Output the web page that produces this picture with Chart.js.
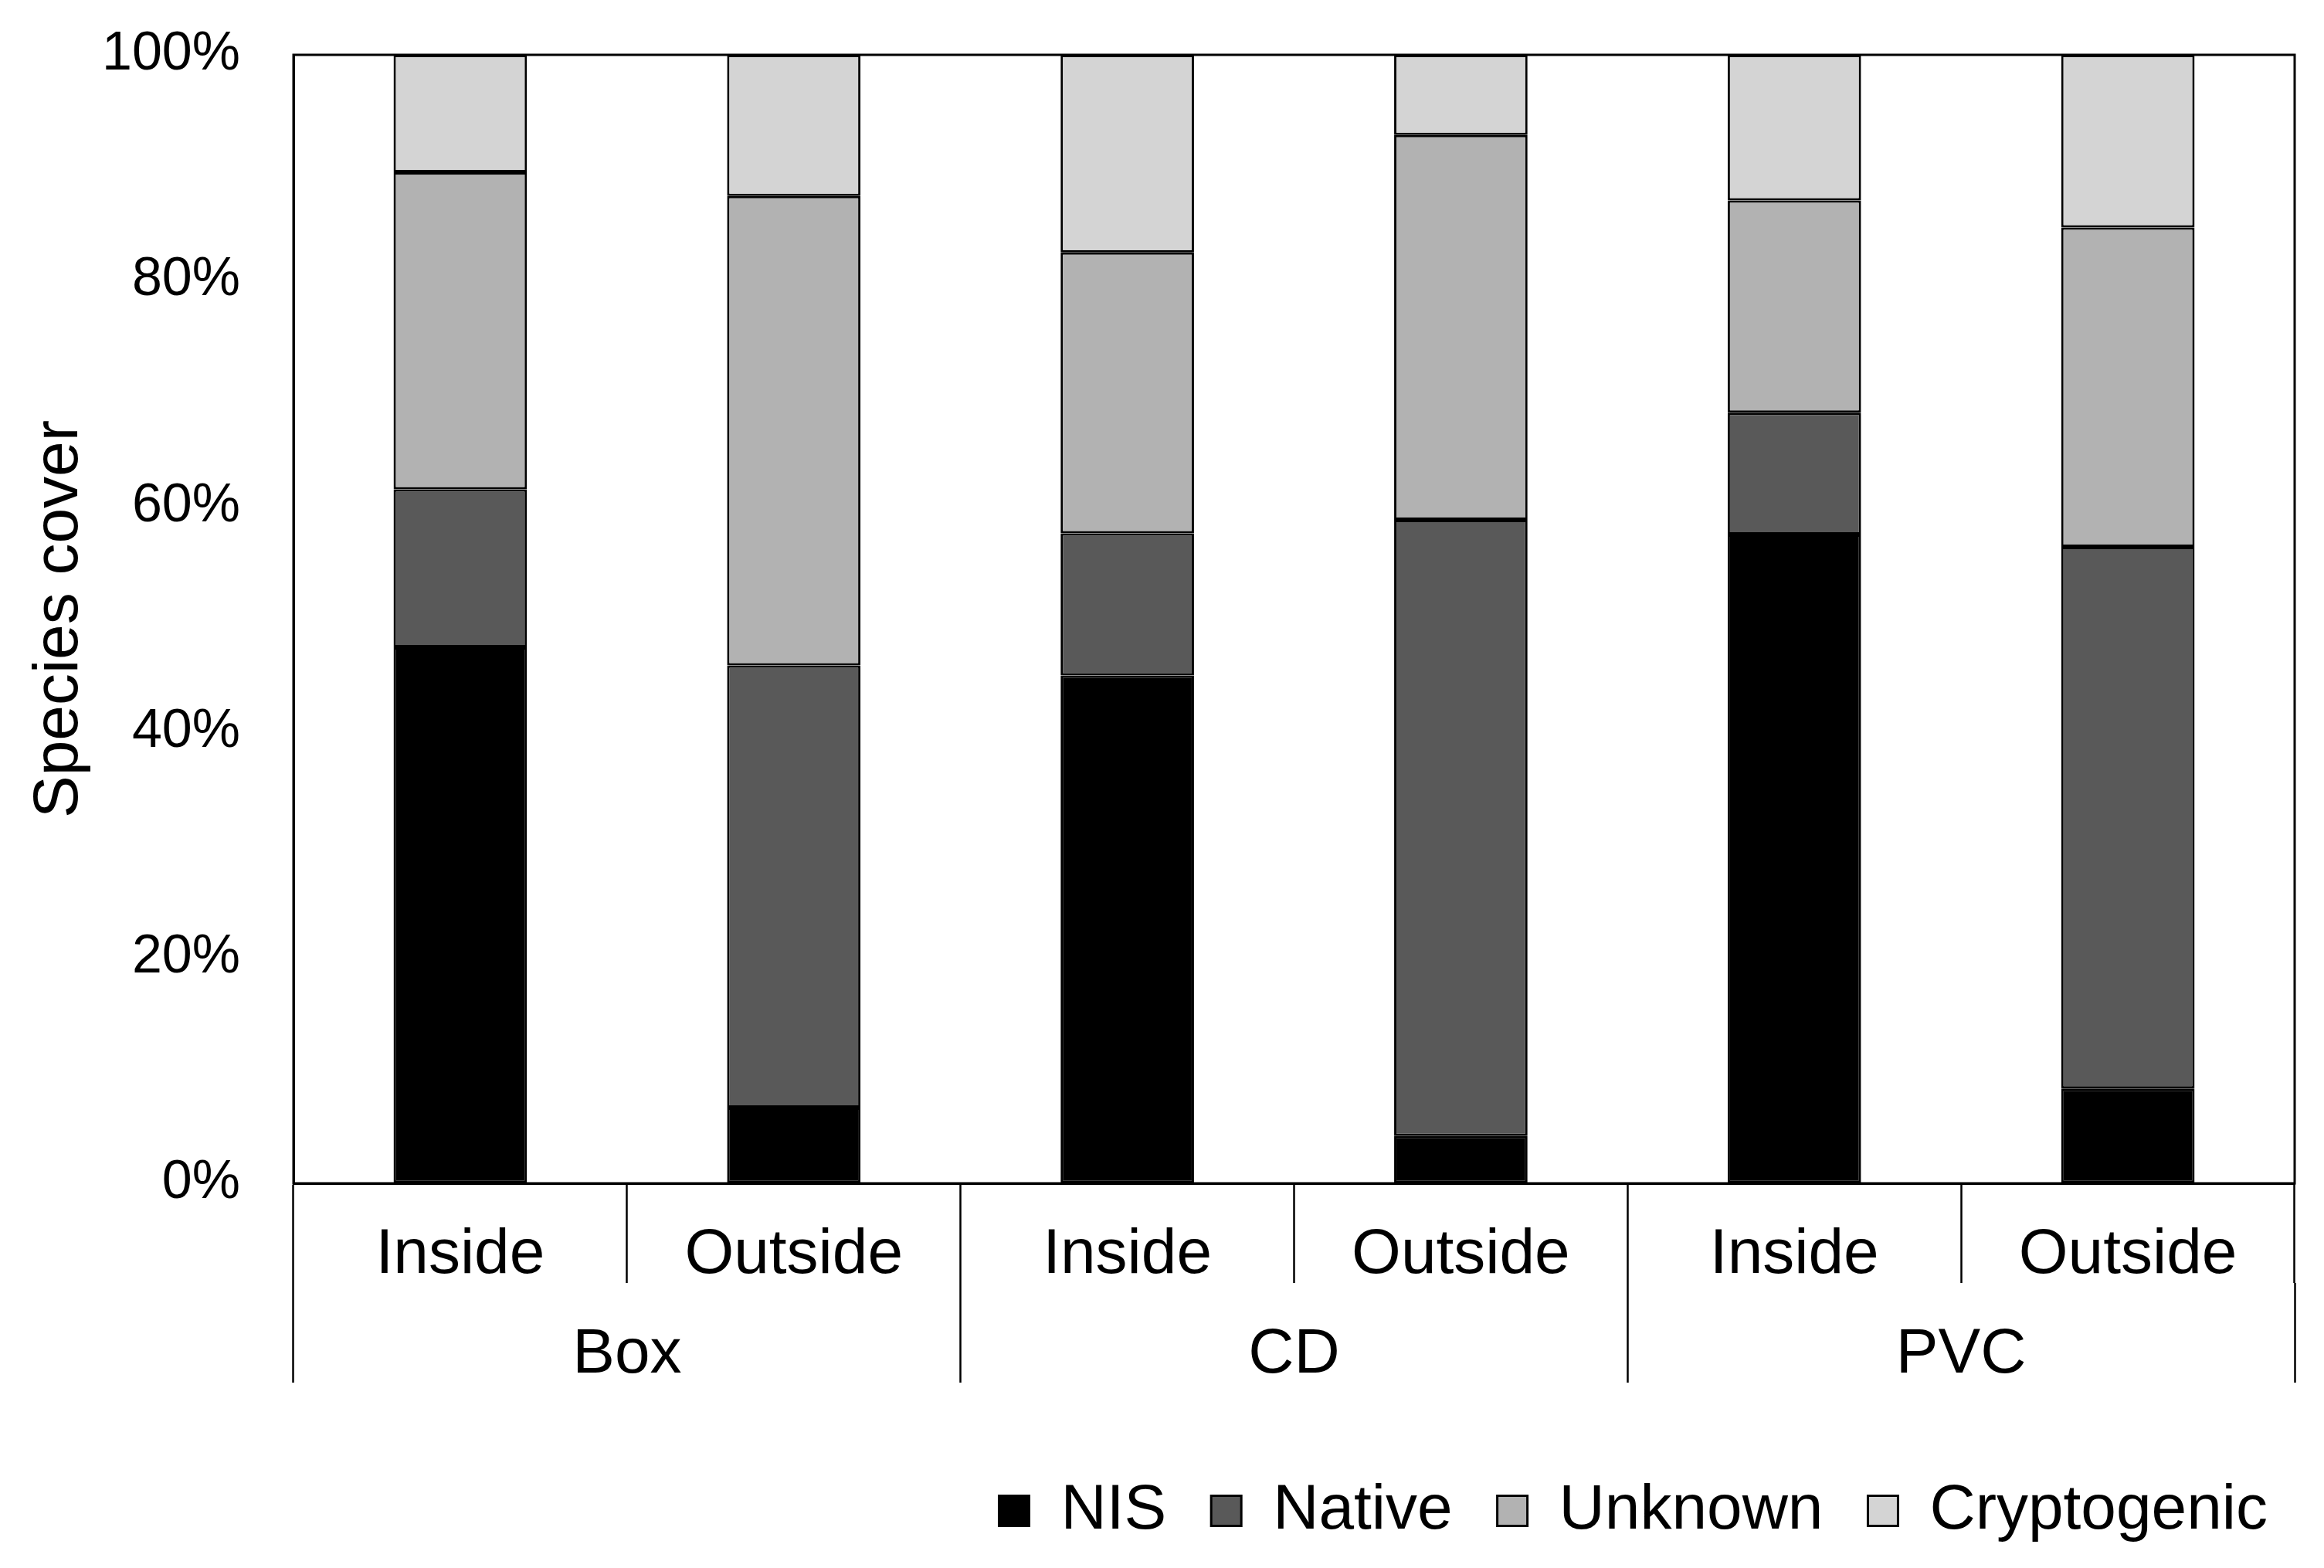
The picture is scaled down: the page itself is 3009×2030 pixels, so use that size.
<!DOCTYPE html>
<html lang="en">
<head>
<meta charset="UTF-8">
<title>Species cover</title>
<script src="https://cdn.jsdelivr.net/npm/chart.js"></script>
<style>
  html, body { margin: 0; padding: 0; background: #fff; }
  #coverChart { display: block; }
</style>
</head>
<body>
<canvas id="coverChart" width="3009" height="2030" style="width:3009px;height:2030px"></canvas>
<script>
// values (% of cover per treatment)
const positions = ['Inside', 'Outside', 'Inside', 'Outside', 'Inside', 'Outside'];
const collectors = ['Box', 'CD', 'PVC'];
const nis = [47.5, 6.7, 45.0, 4.2, 57.5, 8.4];
const native = [14.0, 39.2, 12.6, 54.6, 10.8, 48.0];
const unknown = [28.1, 41.6, 24.9, 34.1, 18.8, 28.3];
const cryptogenic = [10.4, 12.5, 17.5, 7.1, 12.9, 15.3];
const yTicks = [0, 20, 40, 60, 80, 100];

const FONT = 'Arial, "Liberation Sans", sans-serif';

function series(label, values, color) {
    return {
        label: label,
        data: values,
        backgroundColor: color,
        borderColor: '#000',
        borderWidth: 3,
        borderSkipped: false,
        barPercentage: 0.4,
        categoryPercentage: 1.0
    };
}

// box around the plot area (top + right sides too)
const frame = {
    id: 'frame',
    afterDatasetsDraw(chart) {
        const { ctx, chartArea: a } = chart;
        ctx.save();
        ctx.strokeStyle = '#000';
        ctx.lineWidth = 3;
        ctx.strokeRect(a.left, a.top, a.right - a.left, a.bottom - a.top);
        ctx.restore();
    }
};

// offset grid ticks = the separators under the axis
const sepGrid = {
    offset: true,
    drawOnChartArea: false,
    drawTicks: true,
    tickLength: 129,
    tickWidth: 2.5,
    tickColor: '#000'
};

const ctx = document.getElementById('coverChart').getContext('2d');
const coverChart = new Chart(ctx, {
    type: 'bar',
    data: {
        labels: positions,
        datasets: [
            series('NIS', nis, '#000000'),
            series('Native', native, '#595959'),
            series('Unknown', unknown, '#b2b2b2'),
            series('Cryptogenic', cryptogenic, '#d4d4d4')
        ]
    },
    options: {
        responsive: false,
        devicePixelRatio: 1,
        animation: false,
        layout: { padding: { top: 71, right: 15, bottom: 23, left: 0 } },
        plugins: {
            tooltip: { enabled: false },
            legend: {
                position: 'bottom',
                align: 'end',
                labels: {
                    boxWidth: 39,
                    boxHeight: 39,
                    padding: 58,
                    color: '#000',
                    font: { size: 82, family: FONT }
                }
            }
        },
        scales: {
            x: {
                stacked: true,
                weight: 1,
                grid: sepGrid,
                border: { display: true, color: '#000', width: 3 },
                ticks: {
                    color: '#000',
                    font: { size: 82, family: FONT },
                    padding: -85,
                    maxRotation: 0,
                    autoSkip: false
                },
                afterFit: s => { s.height = 129; }
            },
            x2: {
                type: 'category',
                labels: collectors,
                position: 'bottom',
                offset: true,
                weight: 2,
                grid: sepGrid,
                border: { display: false },
                ticks: {
                    color: '#000',
                    font: { size: 82, family: FONT },
                    padding: -85,
                    maxRotation: 0,
                    autoSkip: false
                },
                afterFit: s => { s.height = 196; }
            },
            y: {
                stacked: true,
                min: 0,
                max: 100,
                afterBuildTicks: s => { s.ticks = yTicks.map(v => ({ value: v })); },
                // invisible tick marks give the gap between labels and axis
                grid: {
                    display: true,
                    drawOnChartArea: false,
                    drawTicks: true,
                    tickLength: 69,
                    tickColor: 'rgba(0,0,0,0)'
                },
                border: { display: true, color: '#000', width: 3 },
                ticks: {
                    color: '#000',
                    font: { size: 70, family: FONT },
                    padding: 0,
                    callback: v => v + '%'
                },
                title: {
                    display: true,
                    text: 'Species cover',
                    color: '#000',
                    font: { size: 82, family: FONT },
                    padding: { top: 28, bottom: 0 }
                },
                afterFit: s => { s.width = 380; }
            },
            // empty strip on the right so the legend can run past the plot edge
            yRight: {
                position: 'right',
                grid: { display: false, drawTicks: false },
                border: { display: false },
                ticks: { display: false },
                afterFit: s => { s.width = 23; }
            }
        }
    },
    plugins: [frame]
});
</script>
</body>
</html>
